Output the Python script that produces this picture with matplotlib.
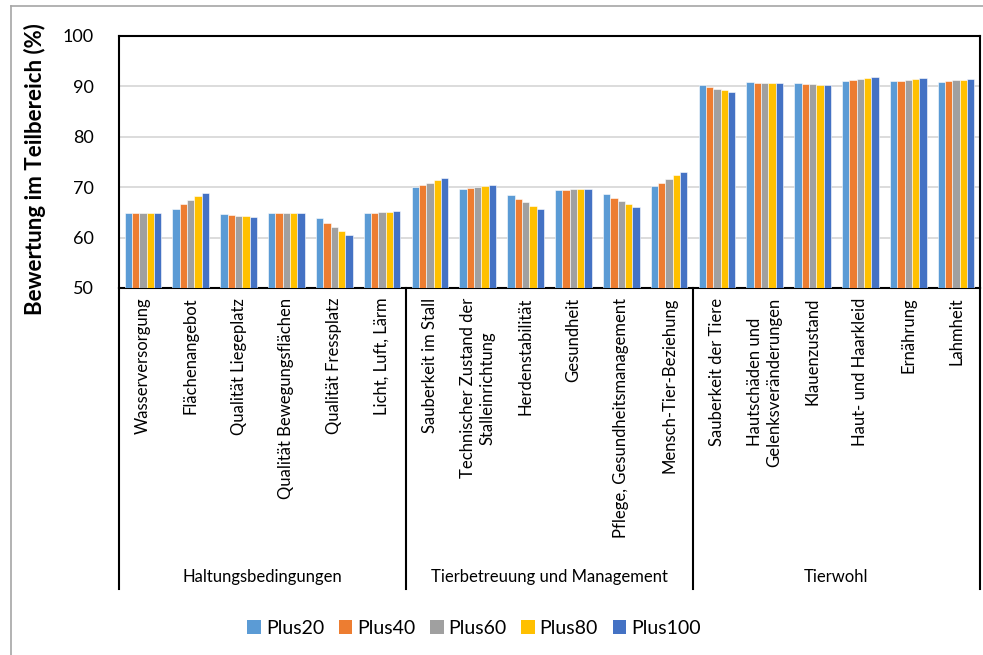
import numpy as np
import matplotlib
matplotlib.use("Agg")
import matplotlib.pyplot as plt
from matplotlib.lines import Line2D
from matplotlib.patches import Patch
import matplotlib.transforms as mtransforms

plt.rcParams['font.family'] = ['Lato', 'DejaVu Sans']

categories = [
    "Wasserversorgung", "Flächenangebot", "Qualität Liegeplatz",
    "Qualität Bewegungsflächen", "Qualität Fressplatz", "Licht, Luft, Lärm",
    "Sauberkeit im Stall", "Technischer Zustand der\nStalleinrichtung",
    "Herdenstabilität", "Gesundheit", "Pflege, Gesundheitsmanagement",
    "Mensch-Tier-Beziehung",
    "Sauberkeit der Tiere", "Hautschäden und\nGelenksveränderungen",
    "Klauenzustand", "Haut- und Haarkleid", "Ernährung", "Lahmheit",
]
groups = ["Haltungsbedingungen", "Tierbetreuung und Management", "Tierwohl"]
group_sizes = [6, 6, 6]

series = ["Plus20", "Plus40", "Plus60", "Plus80", "Plus100"]
plus20 = [64.8, 65.6, 64.6, 64.8, 63.8, 64.8, 70.0, 69.6, 68.5, 69.5, 68.7, 70.3,
          90.3, 90.8, 90.7, 91.1, 91.0, 90.9]
plus40 = [64.8, 66.6, 64.4, 64.8, 62.8, 64.9, 70.5, 69.8, 67.7, 69.5, 67.9, 70.9,
          89.9, 90.7, 90.5, 91.3, 91.1, 91.1]
plus60 = [64.8, 67.4, 64.3, 64.8, 62.1, 65.0, 70.9, 70.0, 67.0, 69.6, 67.2, 71.7,
          89.5, 90.7, 90.5, 91.5, 91.3, 91.2]
plus80 = [64.8, 68.2, 64.2, 64.8, 61.3, 65.0, 71.4, 70.2, 66.2, 69.6, 66.6, 72.4,
          89.3, 90.7, 90.3, 91.7, 91.5, 91.3]
plus100 = [64.8, 68.9, 64.0, 64.8, 60.5, 65.2, 71.9, 70.4, 65.6, 69.7, 66.0, 73.0,
           88.9, 90.7, 90.3, 91.9, 91.6, 91.5]
values = [plus20, plus40, plus60, plus80, plus100]
colors = ["#5B9BD5", "#ED7D31", "#A0A0A0", "#FFC000", "#4472C4"]

W, H = 983, 655
fig = plt.figure(figsize=(W / 100, H / 100), dpi=100)
ax = fig.add_axes([119 / W, 1 - 288 / H, (980 - 119) / W, (288 - 36) / H])

x = np.arange(len(categories))
bw = 0.153
for i, (name, vals, col) in enumerate(zip(series, values, colors)):
    ax.bar(x + (i - 2) * bw, np.array(vals) - 50, bw, bottom=50, color=col,
           edgecolor="white", linewidth=0.4, label=name, zorder=3)

ax.set_xlim(-0.5, len(categories) - 0.5)
ax.set_ylim(50, 100)
ax.set_yticks(range(50, 101, 10))
ax.grid(axis="y", color="#D9D9D9", linewidth=1.3, zorder=0)
ax.tick_params(axis="y", length=0, pad=18, labelsize=13)
ax.set_xticks(x)
ax.set_xticklabels(categories, rotation=90, va="top", ha="center",
                   multialignment="center", fontsize=12)
ax.tick_params(axis="x", length=0, pad=7)
for s in ax.spines.values():
    s.set_color("black")
    s.set_linewidth(1.5)

# multi-level category axis: group separators and group names
trans = mtransforms.blended_transform_factory(ax.transData, ax.transAxes)
y_bottom = (288 - 589) / (288 - 36)
edges = np.concatenate([[0], np.cumsum(group_sizes)]) - 0.5
for e in edges:
    ax.add_line(Line2D([e, e], [0, y_bottom], transform=trans, color="black",
                       linewidth=1.5, clip_on=False))
y_group = (288 - 577) / (288 - 36)
for g, a, b in zip(groups, edges[:-1], edges[1:]):
    ax.text((a + b) / 2, y_group, g, transform=trans, ha="center",
            va="center", fontsize=12)

fig.text(35 / W, 1 - 169 / H, "Bewertung im Teilbereich (%)", rotation=90,
         ha="center", va="center", fontsize=16, fontweight="bold")

handles = [Patch(facecolor=c, edgecolor="none") for c in colors]
fig.legend(handles, series, loc="center", bbox_to_anchor=(474 / W, 1 - 628 / H),
           ncol=5, frameon=False, fontsize=14, handlelength=0.7,
           handleheight=0.7, handletextpad=0.25, columnspacing=0.75)

# chart area border
fig.add_artist(Line2D([11 / W, 11 / W], [0, 1 - 6 / H], transform=fig.transFigure,
                      color="#A6A6A6", linewidth=1.2))
fig.add_artist(Line2D([11 / W, 1], [1 - 6 / H, 1 - 6 / H], transform=fig.transFigure,
                      color="#A6A6A6", linewidth=1.2))

fig.savefig("out.png", dpi=100, facecolor="white")
